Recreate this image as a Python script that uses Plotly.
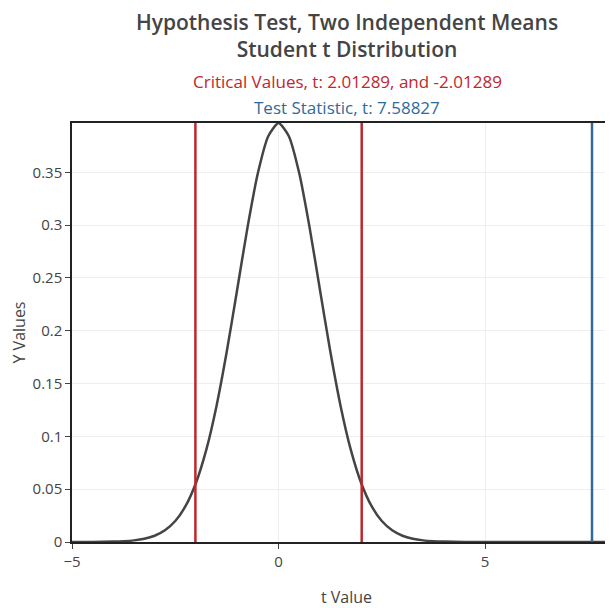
"""Проверка гипотезы: две независимые выборки, t-распределение Стьюдента."""

import plotly.graph_objects as go

# Кривая плотности t
t_values = [
    -5.0, -4.5, -4.0, -3.75, -3.5, -3.25, -3.0, -2.75, -2.5, -2.25, -2.0,
    -1.75, -1.5, -1.25, -1.0, -0.75, -0.5, -0.25, 0.0,
    0.25, 0.5, 0.75, 1.0, 1.25, 1.5, 1.75, 2.0, 2.25, 2.5, 2.75,
    3.0, 3.25, 3.5, 3.75, 4.0, 4.5, 5.0, 6.0, 7.0, 8.0, 8.5,
]
y_values = [
    0.00001, 0.00008, 0.00036, 0.00075, 0.00154, 0.00308, 0.00595, 0.01109,
    0.01986, 0.0341, 0.0559, 0.0872, 0.1291, 0.1810, 0.2393, 0.2981, 0.3493,
    0.3842, 0.3967,
    0.3842, 0.3493, 0.2981, 0.2393, 0.1810, 0.1291, 0.0872, 0.0559, 0.0341,
    0.01986, 0.01109, 0.00595, 0.00308, 0.00154, 0.00075, 0.00036, 0.00008,
    0.00001, 0.0, 0.0, 0.0, 0.0,
]

critical_values = [-2.01289, 2.01289]
test_statistic = 7.58827
y_top = 0.3967

RED = "#c0272d"
BLUE = "#2e6b9a"
GREY = "#444444"

# страница сдвинута на 8 px (поле body); правый край области графика уходит за окно
W, H = 613, 600

fig = go.Figure()

fig.add_trace(
    go.Scatter(
        x=t_values,
        y=y_values,
        mode="lines",
        line=dict(color=GREY, width=2.5, shape="spline", smoothing=0.6),
        hoverinfo="skip",
    )
)

# Критические значения
for cv in critical_values:
    fig.add_trace(
        go.Scatter(
            x=[cv, cv],
            y=[0.0, y_top],
            mode="lines",
            line=dict(color=RED, width=2.5),
            hoverinfo="skip",
        )
    )

# Статистика критерия
fig.add_trace(
    go.Scatter(
        x=[test_statistic, test_statistic],
        y=[0.0, y_top],
        mode="lines",
        line=dict(color=BLUE, width=2.5),
        hoverinfo="skip",
    )
)

fig.add_annotation(
    xref="paper",
    yref="paper",
    x=0.501,
    y=1.098,
    yanchor="middle",
    text=f"Critical Values, t: {critical_values[1]}, and {critical_values[0]}",
    showarrow=False,
    font=dict(size=17, color=RED),
)
fig.add_annotation(
    xref="paper",
    yref="paper",
    x=0.501,
    y=1.038,
    yanchor="middle",
    text=f"Test Statistic, t: {test_statistic}",
    showarrow=False,
    font=dict(size=17, color=BLUE),
)

axis_common = dict(
    showline=True,
    linecolor="#222222",
    linewidth=1.5,
    showgrid=True,
    gridcolor="#eeeeee",
    zeroline=False,
    ticks="outside",
    ticklen=5,
    tickcolor=GREY,
    tickfont=dict(size=15, color=GREY),
)

fig.update_layout(
    template="none",
    width=W,
    height=H,
    title=dict(
        text="Hypothesis Test, Two Independent Means<br>Student t Distribution",
        x=339 / W,
        xanchor="center",
        y=1 - 22 / H,
        yanchor="middle",
        font=dict(size=21, color=GREY, family="Open Sans", weight=600),
    ),
    font=dict(family="Open Sans", color=GREY),
    showlegend=False,
    paper_bgcolor="white",
    plot_bgcolor="white",
    margin=dict(l=64, r=0, t=115, b=66),
    xaxis=dict(
        title=dict(text="t Value", font=dict(size=16, color=GREY), standoff=27),
        range=[-5, 8.29],
        dtick=5,
        mirror=True,
        **axis_common,
    ),
    yaxis=dict(
        title=dict(text="Y Values", font=dict(size=16, color=GREY), standoff=14),
        range=[0, y_top],
        dtick=0.05,
        **axis_common,
    ),
)

fig.write_html("out.html")
